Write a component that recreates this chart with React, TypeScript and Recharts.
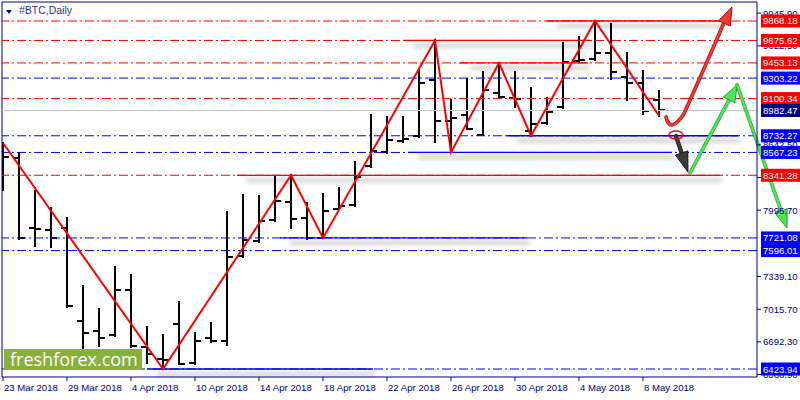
import React from 'react';
import { ComposedChart, Bar, Line, XAxis, YAxis, ReferenceLine, ReferenceDot } from 'recharts';

// ---------- data ----------
const barDates = [
  '23 Mar', '26 Mar', '27 Mar', '28 Mar', '29 Mar', '30 Mar', '2 Apr', '3 Apr', '4 Apr', '5 Apr',
  '6 Apr', '9 Apr', '10 Apr', '11 Apr', '12 Apr', '13 Apr', '14 Apr', '15 Apr', '16 Apr', '17 Apr',
  '18 Apr', '19 Apr', '20 Apr', '21 Apr', '22 Apr', '23 Apr', '24 Apr', '25 Apr', '26 Apr', '27 Apr',
  '28 Apr', '29 Apr', '30 Apr', '1 May', '2 May', '3 May', '4 May', '5 May', '6 May', '7 May',
  '8 May', '9 May',
];
const openV = [
  8600, 8512, 7820, 7800, 7820, 6899, 6800, 6761, 7206, 6642,
  6523, 6870, 6483, 6731, 6701, 7542, 7691, 7899, 8077, 7919,
  7725, 8008, 8047, 8433, 8572, 8681, 8730, 9284, 8879, 8938,
  8740, 9156, 9106, 8780, 8859, 9017, 9472, 9492, 9552, 9314,
  9255, 9086,
];
const highV = [
  8661, 8562, 8186, 8017, 7919, 7246, 7018, 7434, 7354, 6840,
  6761, 7087, 6780, 6879, 7978, 8146, 8136, 8324, 8341.28, 8067,
  8156, 8215, 8473, 8938, 8920, 8918, 9383, 9675.62, 9086, 9294,
  9363, 9453.13, 9363, 9205, 9106, 9650, 9710, 9868.18, 9838, 9552,
  9373, 9175,
];
const lowV = [
  8196, 7715, 7641, 7631, 7040, 6632, 6652, 6750, 6642, 6483,
  6423.94, 6470, 6478, 6691, 6662, 7535, 7685, 7889, 7820, 7715,
  7721.08, 8005, 8040, 8423, 8565, 8671, 8720, 8671, 8567.23, 8795,
  8738, 9110, 9017, 8732.27, 8849, 9010, 9462, 9482, 9294, 9086,
  8948, 8930,
];
const closeV = [
  8522, 7721, 7810, 7721, 7048, 6780, 6731, 7206, 6652, 6573,
  6513, 6478, 6700, 6701, 7533, 7701, 7889, 8087, 7909, 7721,
  7988, 8037, 8324, 8582, 8690, 8700, 9255, 8879, 8908, 8799,
  9185, 9116, 9096, 8849, 8968, 9462, 9482, 9552, 9363, 9255,
  8978, 8982.47,
];

const zigzagIdx = [0, 10, 18, 20, 27, 28, 31, 33, 37, 41];
const zigzagVal = [8661, 6423.94, 8341.28, 7721.08, 9675.62, 8567.23, 9453.13, 8732.27, 9868.18, 8930];

const xTickIdx = [0, 4, 8, 12, 16, 20, 24, 28, 32, 36, 40];
const xTickLabels = [
  '23 Mar 2018', '29 Mar 2018', '4 Apr 2018', '10 Apr 2018', '14 Apr 2018', '18 Apr 2018',
  '22 Apr 2018', '26 Apr 2018', '30 Apr 2018', '4 May 2018', '8 May 2018',
];

const yTickValues = [9945.9, 9622.5, 8642.5, 8318.9, 7995.7, 7339.1, 7015.7, 6692.3, 6368.9];

const levelPrices = [9868.18, 9675.62, 9453.13, 9303.22, 9100.34, 8982.47, 8732.27, 8567.23, 8341.28, 7721.08, 7596.01, 6423.94];
const levelKinds = ['r', 'r', 'r', 'b', 'r', 'bid', 'b', 'b', 'r', 'b', 'b', 'b'];

const solidLevel = [9868.18, 9675.62, 9453.13, 8732.27, 8567.23, 8341.28, 7721.08, 6423.94];
const solidKind = ['r', 'r', 'r', 'b', 'b', 'r', 'b', 'b'];
const solidFrom = [34.0, 25.0, 28.56, 31.5, 25.31, 14.62, 17.31, 9.0];
const solidTo = [44.81, 36.69, 36.56, 45.94, 41.81, 44.81, 32.75, 23.12];

// annotation anchors (bar index, price)
const redArrowFrom = [41.44, 8918];
const redArrowTo = [45.56, 10006];
const greenUpFrom = [42.94, 8364];
const greenUpTo = [45.88, 9235];
const greenDownTo = [49.0, 7820];
const darkArrowFrom = [42.06, 8730];
const darkArrowTo = [42.81, 8374];
const circleAt = [42.06, 8740];

const X_DOMAIN = [-0.0625, 47.125];
const Y_DOMAIN = [6344.8, 10056.2];

// ---------- styles ----------
const RED = '#ff0000';
const BLUE = '#0000ff';
const NAVY = '#000080';
const FONT = '"Liberation Sans", Arial, sans-serif';
const kindColor = (k: string) => (k === 'r' ? RED : k === 'b' ? BLUE : NAVY);

const data = barDates.map((d, i) => {
  const zi = zigzagIdx.indexOf(i);
  return {
    i,
    date: d,
    o: openV[i],
    h: highV[i],
    l: lowV[i],
    c: closeV[i],
    range: [lowV[i], highV[i]],
    zz: zi >= 0 ? zigzagVal[zi] : null,
  };
});

const OhlcShape = (props: any) => {
  const { x, y, width, height, payload } = props;
  if (x == null || y == null || !payload) return null;
  const cx = Math.round(x + width / 2);
  const top = Math.min(y, y + height);
  const bot = Math.max(y, y + height);
  const span = payload.h - payload.l;
  const toY = (v: number) => (span === 0 ? top : top + ((payload.h - v) / span) * (bot - top));
  const yo = Math.round(toY(payload.o));
  const yc = Math.round(toY(payload.c));
  return (
    <g shapeRendering="crispEdges">
      <line x1={cx} x2={cx} y1={Math.round(top) - 1} y2={Math.round(bot) + 1} stroke="#000" strokeWidth={2} />
      <line x1={cx - 6} x2={cx} y1={yo} y2={yo} stroke="#000" strokeWidth={2} />
      <line x1={cx} x2={cx + 6} y1={yc} y2={yc} stroke="#000" strokeWidth={2} />
    </g>
  );
};

const solidShape = (color: string) => (p: any) => {
  const { x1, y1, x2, y2 } = p;
  if (x1 == null) return null;
  return (
    <g>
      <defs>
        <filter id="softShadow" filterUnits="userSpaceOnUse" x={0} y={0} width={800} height={400}>
          <feGaussianBlur stdDeviation="2" />
        </filter>
      </defs>
      <line x1={x1 + 10} x2={x2 + 2} y1={y1 + 5} y2={y2 + 5} stroke="#000" strokeOpacity={0.18} strokeWidth={4} filter="url(#softShadow)" />
      <line x1={x1} x2={x2} y1={y1} y2={y2} stroke={color} strokeWidth={1.3} />
    </g>
  );
};

function headPts(x1: number, y1: number, x2: number, y2: number, len: number, wid: number) {
  const dx = x2 - x1;
  const dy = y2 - y1;
  const L = Math.hypot(dx, dy) || 1;
  const ux = dx / L;
  const uy = dy / L;
  const bx = x2 - ux * len;
  const by = y2 - uy * len;
  const px = -uy;
  const py = ux;
  return {
    points: `${x2},${y2} ${bx + (px * wid) / 2},${by + (py * wid) / 2} ${bx - (px * wid) / 2},${by - (py * wid) / 2}`,
    bx: x2 - ux * len * 0.6,
    by: y2 - uy * len * 0.6,
  };
}

const straightArrow = (color: string, edge: string, w: number, len: number, wid: number) => (p: any) => {
  const { x1, y1, x2, y2 } = p;
  if (x1 == null) return null;
  const h = headPts(x1, y1, x2, y2, len, wid);
  return (
    <g>
      <line x1={x1} y1={y1} x2={h.bx} y2={h.by} stroke={edge} strokeWidth={w + 1.2} strokeLinecap="round" />
      <line x1={x1} y1={y1} x2={h.bx} y2={h.by} stroke={color} strokeWidth={w} strokeLinecap="round" />
      <polygon points={h.points} fill={color} stroke={edge} strokeWidth={1} strokeLinejoin="round" />
    </g>
  );
};

const curvedRedArrow = (p: any) => {
  const { x1, y1, x2, y2 } = p;
  if (x1 == null) return null;
  const dx = x2 - x1;
  const dy = y2 - y1;
  const P = (fx: number, fy: number) => `${x1 + fx * dx},${y1 + fy * dy}`;
  const d = `M ${P(0, 0)} Q ${P(0.06, -0.155)} ${P(0.27, 0.027)} Q ${P(0.6, 0.47)} ${P(0.88, 0.86)}`;
  const ex = x1 + 0.8 * dx;
  const ey = y1 + 0.74 * dy;
  const h = headPts(ex, ey, x2, y2, 18, 13);
  return (
    <g>
      <path d={d} fill="none" stroke="#a01010" strokeWidth={3.6} strokeLinecap="round" />
      <path d={d} fill="none" stroke="#f03a30" strokeWidth={2.2} strokeLinecap="round" />
      <polygon points={h.points} fill="#f03a30" stroke="#a01010" strokeWidth={1} strokeLinejoin="round" />
    </g>
  );
};

const ellipseShape = (p: any) => {
  const { cx, cy } = p;
  if (cx == null) return null;
  return <ellipse cx={cx} cy={cy} rx={7} ry={4} fill="none" stroke="#e01010" strokeWidth={1.5} />;
};

const YTick = (props: any) => {
  const { x, y, payload } = props;
  const v = payload.value as number;
  const li = levelPrices.indexOf(v);
  if (li >= 0) {
    return (
      <g>
        <rect x={x - 2} y={y - 6.5} width={44} height={13} fill={kindColor(levelKinds[li])} />
        <text x={x} y={y + 3.5} fill="#fff" fontSize={9.6} fontFamily={FONT}>
          {v.toFixed(2)}
        </text>
      </g>
    );
  }
  return (
    <g>
      <line x1={x - 6} x2={x - 2} y1={y} y2={y} stroke={NAVY} />
      <text x={x} y={y + 3.5} fill={NAVY} fontSize={9.6} fontFamily={FONT}>
        {v.toFixed(2)}
      </text>
    </g>
  );
};

const XTick = (props: any) => {
  const { x, y, payload } = props;
  const k = xTickIdx.indexOf(payload.value);
  return (
    <g>
      <line x1={x} x2={x} y1={y - 4} y2={y} stroke={NAVY} />
      <text x={x + 1} y={y + 10} fill={NAVY} fontSize={9.6} fontFamily={FONT}>
        {k >= 0 ? xTickLabels[k] : ''}
      </text>
    </g>
  );
};

export default function App() {
  return (
    <div style={{ position: 'absolute', left: 0, top: 0, width: 800, height: 400, background: '#fff', overflow: 'hidden' }}>
      <ComposedChart width={800} height={400} data={data} margin={{ top: 2, right: 0, bottom: 0, left: 2 }}>
        <XAxis
          dataKey="i"
          type="number"
          domain={X_DOMAIN}
          allowDataOverflow
          ticks={xTickIdx}
          interval={0}
          height={23}
          tickSize={4}
          tickMargin={0}
          tickLine={false}
          axisLine={{ stroke: NAVY }}
          tick={XTick}
        />
        <YAxis
          orientation="right"
          type="number"
          domain={Y_DOMAIN}
          allowDataOverflow
          ticks={[...yTickValues, ...levelPrices]}
          interval={0}
          width={43}
          tickSize={4}
          tickMargin={2}
          tickLine={false}
          axisLine={{ stroke: NAVY }}
          tick={YTick}
        />
        <ReferenceLine x={X_DOMAIN[0]} stroke={NAVY} />
        <ReferenceLine y={Y_DOMAIN[1]} stroke={NAVY} />
        {levelPrices.map((v, k) =>
          levelKinds[k] === 'bid' ? (
            <ReferenceLine key={'lv' + k} y={v} stroke="#c8c8c8" strokeWidth={1} />
          ) : (
            <ReferenceLine key={'lv' + k} y={v} stroke={kindColor(levelKinds[k])} strokeWidth={1} strokeDasharray="9 3 2 3" />
          )
        )}
        {solidLevel.map((v, k) => (
          <ReferenceLine
            key={'sl' + k}
            segment={[
              { x: solidFrom[k], y: v },
              { x: solidTo[k], y: v },
            ]}
            ifOverflow="visible"
            shape={solidShape(kindColor(solidKind[k]))}
          />
        ))}
        <Bar dataKey="range" barSize={12} isAnimationActive={false} shape={OhlcShape} />
        <Line dataKey="zz" type="linear" stroke={RED} strokeWidth={2} dot={false} connectNulls isAnimationActive={false} />
        <ReferenceDot x={circleAt[0]} y={circleAt[1]} ifOverflow="visible" shape={ellipseShape} />
        <ReferenceLine
          segment={[
            { x: darkArrowFrom[0], y: darkArrowFrom[1] },
            { x: darkArrowTo[0], y: darkArrowTo[1] },
          ]}
          ifOverflow="visible"
          shape={straightArrow('#3c3c3c', '#151515', 3, 20, 13)}
        />
        <ReferenceLine
          segment={[
            { x: greenUpFrom[0], y: greenUpFrom[1] },
            { x: greenUpTo[0], y: greenUpTo[1] },
          ]}
          ifOverflow="visible"
          shape={straightArrow('#4fe35a', '#22a038', 2.4, 17, 13)}
        />
        <ReferenceLine
          segment={[
            { x: greenUpTo[0], y: greenUpTo[1] },
            { x: greenDownTo[0], y: greenDownTo[1] },
          ]}
          ifOverflow="visible"
          shape={straightArrow('#4fe35a', '#22a038', 2.4, 18, 13)}
        />
        <ReferenceLine
          segment={[
            { x: redArrowFrom[0], y: redArrowFrom[1] },
            { x: redArrowTo[0], y: redArrowTo[1] },
          ]}
          ifOverflow="visible"
          shape={curvedRedArrow}
        />
      </ComposedChart>
      <div style={{ position: 'absolute', left: 6, top: 10, width: 0, height: 0, borderLeft: '3.5px solid transparent', borderRight: '3.5px solid transparent', borderTop: '4px solid ' + NAVY }} />
      <div style={{ position: 'absolute', left: 19, top: 3, fontFamily: FONT, fontSize: 10.5, color: '#33338f', lineHeight: '14px' }}>#BTC,Daily</div>
      <div
        style={{
          position: 'absolute',
          left: 4,
          top: 349,
          width: 138,
          height: 21,
          background: '#87b23a',
          color: '#fff',
          fontFamily: '"Open Sans", sans-serif',
          fontSize: 18,
          lineHeight: '21px',
          paddingLeft: 6,
          boxSizing: 'border-box',
          whiteSpace: 'nowrap',
        }}
      >
        freshforex.com
      </div>
    </div>
  );
}
